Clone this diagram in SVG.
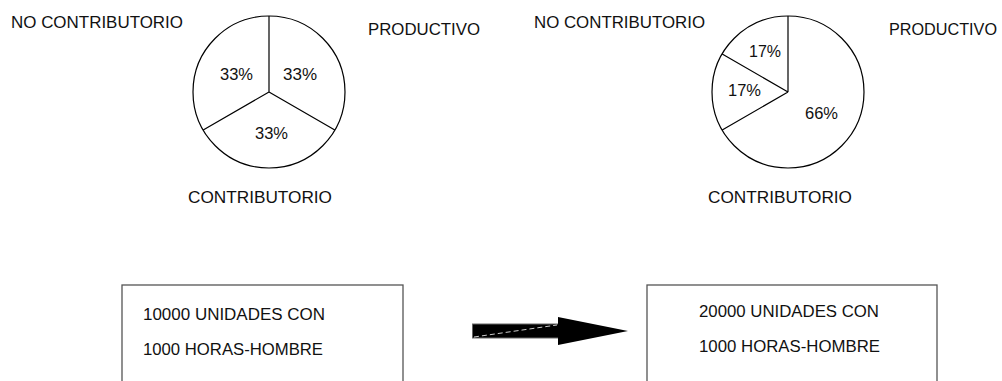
<svg xmlns="http://www.w3.org/2000/svg" width="1002" height="381" viewBox="0 0 1002 381">
  <style>
    text { font-family: "Liberation Sans", Arial, sans-serif; font-size: 16px; fill: #111; }
    .pie { fill: #fff; stroke: #000; stroke-width: 1.2; }
    .cut { stroke: #000; stroke-width: 1.2; fill: none; }
    .box { fill: #fff; stroke: #555; stroke-width: 1.3; }
  </style>
  <rect width="1002" height="381" fill="#fff"/>

  <!-- Pie chart: current distribution (three equal slices) -->
  <g id="pie-before">
    <circle class="pie" cx="269" cy="92" r="76"/>
    <path class="cut" d="M269 92 V16 M269 92 L334.8 130 M269 92 L203.2 130"/>
    <text x="220" y="80" textLength="33" lengthAdjust="spacingAndGlyphs">33%</text>
    <text x="283" y="80" textLength="34" lengthAdjust="spacingAndGlyphs">33%</text>
    <text x="255" y="139" textLength="33" lengthAdjust="spacingAndGlyphs">33%</text>
  </g>
  <g id="label-nc-before"><text x="11" y="28" textLength="172" lengthAdjust="spacingAndGlyphs">NO CONTRIBUTORIO</text></g>
  <g id="label-prod-before"><text x="368" y="35" textLength="112" lengthAdjust="spacingAndGlyphs">PRODUCTIVO</text></g>
  <g id="label-contrib-before"><text x="188" y="203" textLength="144" lengthAdjust="spacingAndGlyphs">CONTRIBUTORIO</text></g>

  <!-- Pie chart: improved distribution (17 / 17 / 66) -->
  <g id="pie-after">
    <circle class="pie" cx="788" cy="92" r="76"/>
    <path class="cut" d="M788 92 V16 M788 92 L722.2 54 M788 92 L722.2 130"/>
    <text x="749" y="57" textLength="32" lengthAdjust="spacingAndGlyphs">17%</text>
    <text x="728" y="96" textLength="33" lengthAdjust="spacingAndGlyphs">17%</text>
    <text x="805" y="119" textLength="33" lengthAdjust="spacingAndGlyphs">66%</text>
  </g>
  <g id="label-nc-after"><text x="534" y="28" textLength="171" lengthAdjust="spacingAndGlyphs">NO CONTRIBUTORIO</text></g>
  <g id="label-prod-after"><text x="889" y="35" textLength="108" lengthAdjust="spacingAndGlyphs">PRODUCTIVO</text></g>
  <g id="label-contrib-after"><text x="708" y="203" textLength="144" lengthAdjust="spacingAndGlyphs">CONTRIBUTORIO</text></g>

  <!-- Output boxes -->
  <g id="box-before">
    <rect class="box" x="122" y="285" width="281" height="110"/>
    <text x="143" y="320" textLength="182" lengthAdjust="spacingAndGlyphs">10000 UNIDADES CON</text>
    <text x="143" y="355" textLength="180" lengthAdjust="spacingAndGlyphs">1000 HORAS-HOMBRE</text>
  </g>
  <g id="box-after">
    <rect class="box" x="647" y="285" width="290" height="110"/>
    <text x="699" y="317" textLength="180" lengthAdjust="spacingAndGlyphs">20000 UNIDADES CON</text>
    <text x="699" y="352" textLength="181" lengthAdjust="spacingAndGlyphs">1000 HORAS-HOMBRE</text>
  </g>

  <!-- Connector: block arrow between the boxes -->
  <g id="connectors">
    <rect x="472.5" y="324" width="86" height="14" fill="#000" stroke="#666" stroke-width="1"/>
    <polygon points="558,317 628,331 558,345" fill="#000"/>
    <line x1="474" y1="337" x2="557" y2="325" stroke="#fff" stroke-width="0.8" stroke-dasharray="5 3"/>
  </g>
</svg>
